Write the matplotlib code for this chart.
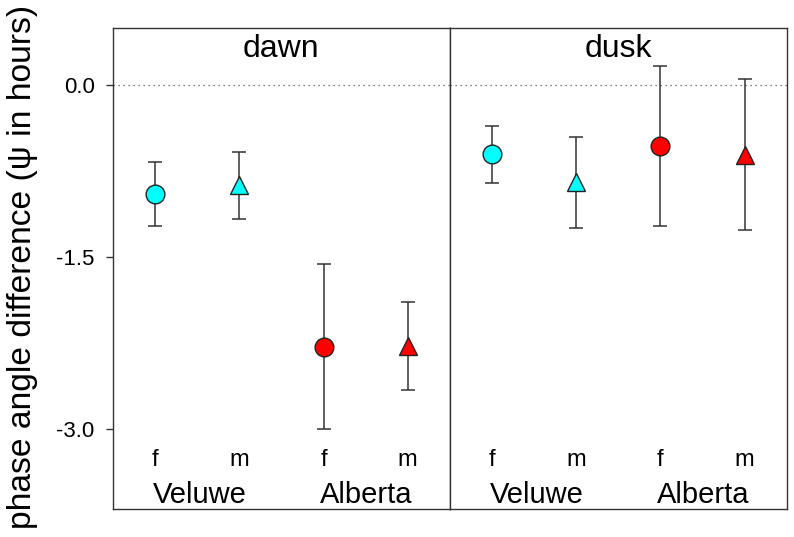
import numpy as np
import matplotlib.pyplot as plt

plt.rcParams["font.family"] = ["Liberation Sans", "DejaVu Sans"]

# f/m for Veluwe then Alberta
sexes = ["f", "m", "f", "m"]
sites = ["Veluwe", "Alberta"]
dawn_mean = [-0.955, -0.877, -2.286, -2.277]
dawn_err = [0.28, 0.29, 0.72, 0.385]
dusk_mean = [-0.605, -0.849, -0.534, -0.609]
dusk_err = [0.25, 0.396, 0.70, 0.66]
point_colors = ["#00ffff", "#00ffff", "#ff0000", "#ff0000"]
point_markers = ["o", "^", "o", "^"]
yticks = [0.0, -1.5, -3.0]

x = np.arange(1, 5)

fig, axes = plt.subplots(1, 2, figsize=(7.94, 5.37), dpi=100, sharey=True)
fig.subplots_adjust(left=0.1423, right=0.9908, top=0.9484, bottom=0.0527, wspace=0)

panels = [("dawn", dawn_mean, dawn_err), ("dusk", dusk_mean, dusk_err)]
for ax, (title, mean, err) in zip(axes, panels):
    ax.axhline(0, color="#555555", linestyle=(0, (1, 3)), linewidth=0.9, zorder=1)
    for i in range(4):
        ax.errorbar(x[i], mean[i], yerr=err[i], fmt="none", ecolor="#333333",
                    elinewidth=1.1, capsize=5.2, capthick=1.1, zorder=2)
        ax.plot(x[i], mean[i], marker=point_markers[i], markersize=13.5,
                markerfacecolor=point_colors[i], markeredgecolor="#222222",
                markeredgewidth=1.0, linestyle="none", zorder=3)
    ax.set_xlim(0.5, 4.5)
    ax.set_ylim(-3.7, 0.5)
    ax.set_xticks([])
    ax.text(2.5, 0.247, title, ha="center", va="baseline", fontsize=23)
    for i in range(4):
        ax.text(x[i], -3.33, sexes[i], ha="center", va="baseline", fontsize=17)
    ax.text(1.53, -3.647, sites[0], ha="center", va="baseline", fontsize=21)
    ax.text(3.51, -3.647, sites[1], ha="center", va="baseline", fontsize=21)
    for s in ax.spines.values():
        s.set_color("#333333")
        s.set_linewidth(1.0)

axes[0].set_yticks(yticks)
axes[0].set_yticklabels([f"{v:.1f}" for v in yticks], fontsize=16)
axes[0].tick_params(axis="y", direction="out", length=5.3, width=1.0,
                    color="#333333", pad=8)
axes[1].tick_params(axis="y", left=False, labelleft=False)
fig.text(22.5 / 794, 0.5037, "phase angle difference (\u03c8 in hours)",
         rotation=90, ha="center", va="center", fontsize=24.2)

fig.savefig("out.png", dpi=100)
